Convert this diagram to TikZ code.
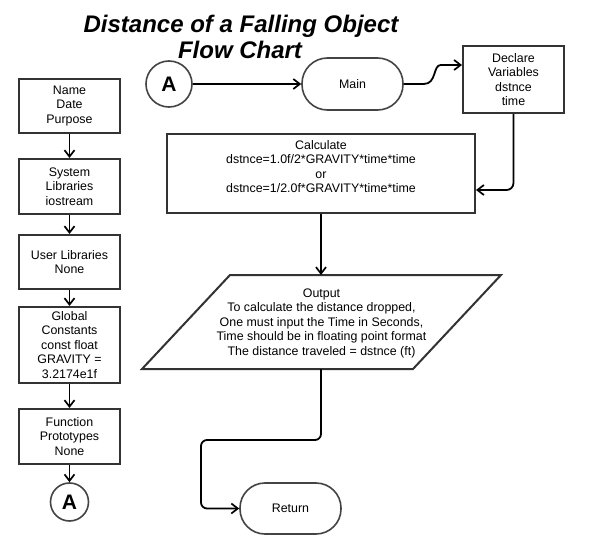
\documentclass[tikz,border=0pt]{standalone}
\usepackage{fontspec}
\setmainfont{Liberation Sans}
\usetikzlibrary{arrows.meta}
\definecolor{boxc}{HTML}{333333}
\definecolor{termc}{HTML}{444444}
\newcommand\myfont{\fontsize{12.4}{14.5}\selectfont}
\begin{document}
\begin{tikzpicture}[x=1pt,y=-1pt,
  box/.style={draw=boxc, line width=2pt, rectangle, minimum width=101pt, inner sep=0pt, align=center, font=\myfont},
  term/.style={draw=termc, line width=1.6pt, rectangle, minimum width=101pt, inner sep=0pt, align=center, font=\myfont},
  conn/.style={draw=black, line width=1.8pt, -{Straight Barb[length=6.5pt,width=10pt,line width=1.7pt]}},
  conA/.style={draw=termc, line width=1.6pt, circle, inner sep=0pt, font=\fontsize{21}{21}\bfseries},
  txt/.style={align=center, font=\myfont, inner sep=0pt}]
\useasboundingbox[fill=white] (0,0) rectangle (590,554);

% title
\node[anchor=base, font=\fontsize{24}{27}\bfseries\itshape, inner sep=0pt] (title1) at (241,32) {Distance of a Falling Object};
\node[anchor=base, font=\fontsize{24}{27}\bfseries\itshape, inner sep=0pt] (title2) at (240,59) {Flow Chart};

% left column
\node[box, minimum height=54pt] (n1) at (69.5,106) {Name\\Date\\Purpose};
\node[box, minimum height=55pt] (n2) at (69.5,186.5) {System\\Libraries\\iostream};
\node[box, minimum height=54pt] (n3) at (69.5,262) {User Libraries\\None};
\node[box, minimum height=76pt] (n4) at (69.5,345) {Global\\Constants\\const float\\GRAVITY =\\3.2174e1f};
\node[box, minimum height=55pt] (n5) at (69.5,436.5) {Function\\Prototypes\\None};
\node[conA, minimum size=38pt] (a2) at (69.5,502) {A};

\draw[conn] (n1.south) -- (n2.north);
\draw[conn] (n2.south) -- (n3.north);
\draw[conn] (n3.south) -- (n4.north);
\draw[conn] (n4.south) -- (n5.north);
\draw[conn] (n5.south) -- (a2.north);

% main flow
\node[conA, minimum size=46pt] (a1) at (169,84) {A};
\node[term, minimum height=52pt, rounded corners=25.5pt] (main) at (352.5,84) {Main};
\node[box, minimum height=67pt] (decl) at (513.5,79.5) {Declare\\Variables\\dstnce\\time};
\node[box, minimum width=308pt, minimum height=79pt] (calc) at (321,173.5) {};
\node[txt] (calctxt) at (321,166.5) {Calculate\\dstnce=1.0f/2*GRAVITY*time*time\\or\\dstnce=1/2.0f*GRAVITY*time*time};

\coordinate (outN) at (321,275);
\coordinate (outS) at (321,369);
\draw[draw=boxc, line width=2pt, line join=miter] (142,369) -- (230,275) -- (501,275) -- (413,369) -- cycle;
\node[txt, text depth=0pt] (outtxt) at (321.5,322) {Output\\To calculate the distance dropped,\\One must input the Time in Seconds,\\Time should be in floating point format\\The distance traveled = dstnce (ft)};

\node[term, minimum height=51pt, rounded corners=25pt] (ret) at (290.5,508.5) {Return};

\draw[conn] (a1.east) -- (main.west);
\draw[conn] (main.east) -- ++(20,0) .. controls +(13,0) and +(-8,0) .. ++(17,-19) coordinate (w) -- (w -| decl.west);
\draw[conn, rounded corners=7pt] (decl.south) |- ([yshift=-16.5pt]calc.east);
\draw[conn] (calc.south) -- (outN);
\draw[conn, rounded corners=6pt] (outS) -- ++(0,71) -- ++(-120,0) |- (ret.west);
\end{tikzpicture}
\end{document}
